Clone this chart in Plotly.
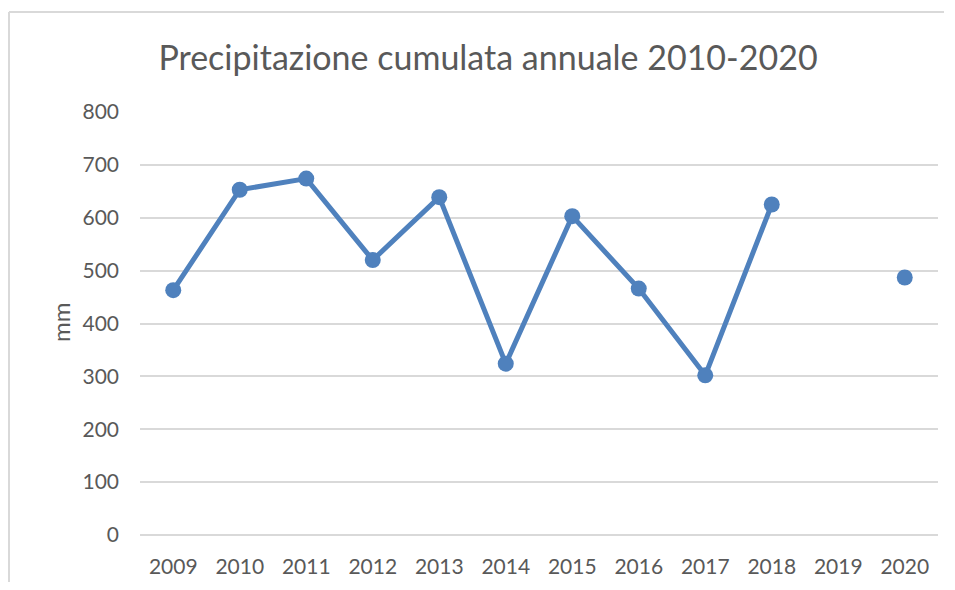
import plotly.graph_objects as go

years = ["2009", "2010", "2011", "2012", "2013", "2014", "2015", "2016", "2017", "2018", "2019", "2020"]
precip_mm = [463, 653, 674, 520, 639, 324, 603, 466, 302, 625, None, 487]
y_ticks = [0, 100, 200, 300, 400, 500, 600, 700, 800]

title_text = "Precipitazione cumulata annuale 2010-2020"
y_title = "mm"

# page body has an 8px margin on every side; keep the page from overflowing
OFF = 8
W, H = 955 - 2 * OFF, 590 - 2 * OFF
PLOT_LEFT, PLOT_RIGHT, PLOT_TOP, PLOT_BOTTOM = 140, 938, 112, 535  # screenshot pixels
L = PLOT_LEFT - OFF
R = W - (PLOT_RIGHT - OFF)
T = PLOT_TOP - OFF
B = H - (PLOT_BOTTOM - OFF)
pw, ph = W - L - R, H - T - B

def px_x(p):
    return (p - OFF - L) / pw

def px_y(p):
    return (H - B - (p - OFF)) / ph

blue = "#4F81BD"
gray_text = "#595959"
grid = "#D9D9D9"
font_family = "Lato, 'Open Sans', sans-serif"

fig = go.Figure()
fig.add_trace(go.Scatter(
    x=years, y=precip_mm, mode="lines+markers",
    line=dict(color=blue, width=5),
    marker=dict(color=blue, size=16),
    connectgaps=False, showlegend=False, hoverinfo="x+y",
))

fig.update_layout(
    width=W, height=H,
    margin=dict(l=L, r=R, t=T, b=B, autoexpand=False),
    paper_bgcolor="white", plot_bgcolor="white",
    title=dict(text=title_text, x=(488 - OFF) / W, xref="container", xanchor="center",
               y=1 - (58 - OFF) / H, yref="container", yanchor="middle",
               font=dict(family=font_family, size=34, color=gray_text)),
    font=dict(family=font_family, color=gray_text, size=21),
    xaxis=dict(type="category", categoryorder="array", categoryarray=years,
               range=[-0.5, len(years) - 0.5], showgrid=False, showline=False,
               ticks="", zeroline=False, ticklabelstandoff=17, automargin=False,
               tickfont=dict(size=21, color=gray_text)),
    yaxis=dict(range=[0, 800], tickvals=y_ticks, showgrid=True, gridcolor=grid,
               gridwidth=1.5, zeroline=True, zerolinecolor=grid, zerolinewidth=1.5,
               showline=False, ticks="", ticklabelstandoff=20, automargin=False,
               tickfont=dict(size=21, color=gray_text)),
    shapes=[
        dict(type="line", xref="paper", yref="paper",
             x0=px_x(9), x1=px_x(944), y0=px_y(12), y1=px_y(12),
             line=dict(color=grid, width=2), layer="below"),
        dict(type="line", xref="paper", yref="paper",
             x0=px_x(9), x1=px_x(9), y0=px_y(12), y1=px_y(600),
             line=dict(color=grid, width=2), layer="below"),
    ],
    annotations=[dict(text=y_title, xref="paper", yref="paper", x=px_x(60), y=px_y(323),
                      xanchor="center", yanchor="middle", textangle=-90, showarrow=False,
                      font=dict(family=font_family, size=24, color=gray_text))],
)

fig.write_html("out.html")
